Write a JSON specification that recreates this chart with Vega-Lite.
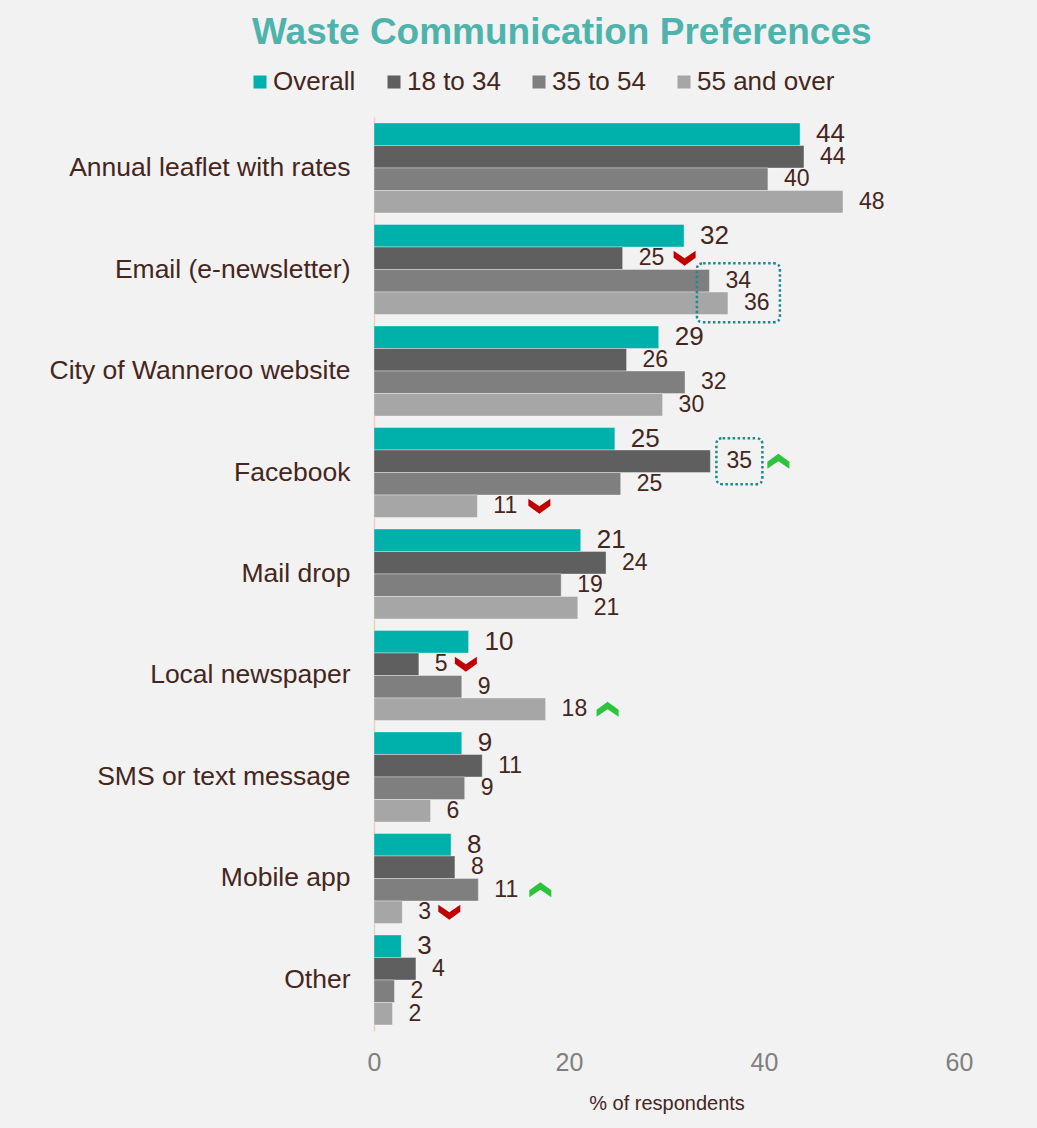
{
  "$schema": "https://vega.github.io/schema/vega-lite/v6.json",
  "width": 585,
  "height": 914,
  "autosize": {"type": "none"},
  "padding": {"left": 374, "top": 117, "right": 78, "bottom": 97},
  "background": "#F2F2F2",
  "title": {
    "text": "Waste Communication Preferences",
    "font": "Liberation Sans",
    "fontSize": 37,
    "fontWeight": "bold",
    "color": "#4FB3AD",
    "anchor": "start",
    "frame": "group",
    "dx": -122,
    "dy": 39,
    "baseline": "alphabetic",
    "offset": 27
  },
  "config": {
    "view": {"stroke": null},
    "font": "Liberation Sans",
    "axis": {"grid": false, "ticks": false}
  },
  "data": {
    "values": [
      {"category": "Annual leaflet with rates", "series": "Overall", "value": 43.7, "label": 44},
      {"category": "Annual leaflet with rates", "series": "18 to 34", "value": 44.1, "label": 44},
      {"category": "Annual leaflet with rates", "series": "35 to 54", "value": 40.4, "label": 40},
      {"category": "Annual leaflet with rates", "series": "55 and over", "value": 48.1, "label": 48},
      {"category": "Email (e-newsletter)", "series": "Overall", "value": 31.8, "label": 32},
      {"category": "Email (e-newsletter)", "series": "18 to 34", "value": 25.5, "label": 25, "change": "down"},
      {"category": "Email (e-newsletter)", "series": "35 to 54", "value": 34.4, "label": 34, "highlight": "pair"},
      {"category": "Email (e-newsletter)", "series": "55 and over", "value": 36.3, "label": 36},
      {"category": "City of Wanneroo website", "series": "Overall", "value": 29.2, "label": 29},
      {"category": "City of Wanneroo website", "series": "18 to 34", "value": 25.9, "label": 26},
      {"category": "City of Wanneroo website", "series": "35 to 54", "value": 31.9, "label": 32},
      {"category": "City of Wanneroo website", "series": "55 and over", "value": 29.6, "label": 30},
      {"category": "Facebook", "series": "Overall", "value": 24.7, "label": 25},
      {"category": "Facebook", "series": "18 to 34", "value": 34.5, "label": 35, "change": "up", "highlight": "single"},
      {"category": "Facebook", "series": "35 to 54", "value": 25.3, "label": 25},
      {"category": "Facebook", "series": "55 and over", "value": 10.6, "label": 11, "change": "down"},
      {"category": "Mail drop", "series": "Overall", "value": 21.2, "label": 21},
      {"category": "Mail drop", "series": "18 to 34", "value": 23.8, "label": 24},
      {"category": "Mail drop", "series": "35 to 54", "value": 19.2, "label": 19},
      {"category": "Mail drop", "series": "55 and over", "value": 20.9, "label": 21},
      {"category": "Local newspaper", "series": "Overall", "value": 9.7, "label": 10},
      {"category": "Local newspaper", "series": "18 to 34", "value": 4.6, "label": 5, "change": "down"},
      {"category": "Local newspaper", "series": "35 to 54", "value": 9.0, "label": 9},
      {"category": "Local newspaper", "series": "55 and over", "value": 17.6, "label": 18, "change": "up"},
      {"category": "SMS or text message", "series": "Overall", "value": 9.0, "label": 9},
      {"category": "SMS or text message", "series": "18 to 34", "value": 11.1, "label": 11},
      {"category": "SMS or text message", "series": "35 to 54", "value": 9.3, "label": 9},
      {"category": "SMS or text message", "series": "55 and over", "value": 5.8, "label": 6},
      {"category": "Mobile app", "series": "Overall", "value": 7.9, "label": 8},
      {"category": "Mobile app", "series": "18 to 34", "value": 8.3, "label": 8},
      {"category": "Mobile app", "series": "35 to 54", "value": 10.7, "label": 11, "change": "up"},
      {"category": "Mobile app", "series": "55 and over", "value": 2.9, "label": 3, "change": "down"},
      {"category": "Other ", "series": "Overall", "value": 2.8, "label": 3},
      {"category": "Other ", "series": "18 to 34", "value": 4.3, "label": 4},
      {"category": "Other ", "series": "35 to 54", "value": 2.1, "label": 2},
      {"category": "Other ", "series": "55 and over", "value": 1.9, "label": 2}
    ]
  },
  "encoding": {
    "y": {
      "field": "category",
      "type": "nominal",
      "sort": null,
      "scale": {"paddingInner": 0.113, "paddingOuter": 0.059},
      "axis": {
        "title": null,
        "labelFontSize": 26.5,
        "labelColor": "#45261D",
        "labelPadding": 24,
        "labelLimit": 400,
        "domainColor": "#EFCFC4",
        "domainWidth": 1.5
      }
    },
    "yOffset": {
      "field": "series",
      "type": "nominal",
      "sort": ["Overall", "18 to 34", "35 to 54", "55 and over"],
      "scale": {"paddingInner": 0, "paddingOuter": 0}
    },
    "x": {
      "field": "value",
      "type": "quantitative",
      "scale": {"domain": [0, 60], "nice": false},
      "axis": {
        "values": [0, 20, 40, 60],
        "domain": false,
        "labelFlush": false,
        "labelFontSize": 25,
        "labelColor": "#7F7F7F",
        "labelPadding": 19,
        "title": "% of respondents",
        "titleFontSize": 20,
        "titleFontWeight": "normal",
        "titleColor": "#45261D",
        "titlePadding": 18
      }
    }
  },
  "layer": [
    {
      "mark": {"type": "bar", "stroke": "#FFFFFF", "strokeOpacity": 0.35, "strokeWidth": 1},
      "encoding": {
        "color": {
          "field": "series",
          "type": "nominal",
          "sort": ["Overall", "18 to 34", "35 to 54", "55 and over"],
          "scale": {
            "domain": ["Overall", "18 to 34", "35 to 54", "55 and over"],
            "range": ["#00B0AA", "#5F5F5F", "#7F7F7F", "#A6A6A6"]
          },
          "legend": {
            "title": null,
            "orient": "none",
            "direction": "horizontal",
            "legendX": -127,
            "legendY": -48,
            "symbolType": "square",
            "symbolSize": 169,
            "symbolStrokeWidth": 0,
            "labelFontSize": 26,
            "labelColor": "#45261D",
            "labelOffset": 0,
            "columnPadding": 25,
            "labelLimit": 300
          }
        }
      }
    },
    {
      "mark": {"type": "text", "align": "left", "baseline": "middle", "dx": 16, "color": "#45261D"},
      "encoding": {
        "text": {"field": "label", "type": "quantitative"},
        "size": {"condition": {"test": "datum.series === 'Overall'", "value": 26}, "value": 23}
      }
    },
    {
      "transform": [{"filter": "datum.highlight != null"}],
      "mark": {"type": "point", "filled": false, "opacity": 1, "stroke": "#1F8A8C", "strokeWidth": 2.5, "strokeDash": [2.5, 2.5], "size": 6889},
      "encoding": {
        "shape": {
          "condition": {
            "test": "datum.highlight === 'pair'",
            "value": "M-0.151,-0.42 L1.549,-0.42 Q1.699,-0.42 1.699,-0.27 L1.699,0.85 Q1.699,1 1.549,1 L-0.151,1 Q-0.301,1 -0.301,0.85 L-0.301,-0.27 Q-0.301,-0.42 -0.151,-0.42 Z"
          },
          "value": "M0.295,-0.554 L1.103,-0.554 Q1.253,-0.554 1.253,-0.404 L1.253,0.404 Q1.253,0.554 1.103,0.554 L0.295,0.554 Q0.145,0.554 0.145,0.404 L0.145,-0.404 Q0.145,-0.554 0.295,-0.554 Z"
        }
      }
    },
    {
      "transform": [{"filter": "datum.change != null && datum.label >= 10 && datum.highlight == null"}],
      "mark": {"type": "point", "filled": true, "opacity": 1, "strokeWidth": 0, "size": 484},
      "encoding": {
        "color": {"condition": {"test": "datum.change === 'up'", "value": "#2CC43C"}, "value": "#C00000"},
        "shape": {"condition": {"test": "datum.change === 'up'", "value": "M4.636,0.68 L5.636,0 L6.636,0.68 L6.636,0.05 L5.636,-0.68 L4.636,0.05 Z"}, "value": "M4.636,-0.68 L5.636,0 L6.636,-0.68 L6.636,-0.05 L5.636,0.68 L4.636,-0.05 Z"}
      }
    },
    {
      "transform": [{"filter": "datum.change != null && datum.label < 10"}],
      "mark": {"type": "point", "filled": true, "opacity": 1, "strokeWidth": 0, "size": 484},
      "encoding": {
        "color": {"condition": {"test": "datum.change === 'up'", "value": "#2CC43C"}, "value": "#C00000"},
        "shape": {"condition": {"test": "datum.change === 'up'", "value": "M3.273,0.68 L4.273,0 L5.273,0.68 L5.273,0.05 L4.273,-0.68 L3.273,0.05 Z"}, "value": "M3.273,-0.68 L4.273,0 L5.273,-0.68 L5.273,-0.05 L4.273,0.68 L3.273,-0.05 Z"}
      }
    },
    {
      "transform": [{"filter": "datum.change != null && datum.highlight != null"}],
      "mark": {"type": "point", "filled": true, "opacity": 1, "strokeWidth": 0, "size": 484},
      "encoding": {
        "color": {"condition": {"test": "datum.change === 'up'", "value": "#2CC43C"}, "value": "#C00000"},
        "shape": {"condition": {"test": "datum.change === 'up'", "value": "M5.182,0.68 L6.182,0 L7.182,0.68 L7.182,0.05 L6.182,-0.68 L5.182,0.05 Z"}, "value": "M5.182,-0.68 L6.182,0 L7.182,-0.68 L7.182,-0.05 L6.182,0.68 L5.182,-0.05 Z"}
      }
    }
  ]
}
